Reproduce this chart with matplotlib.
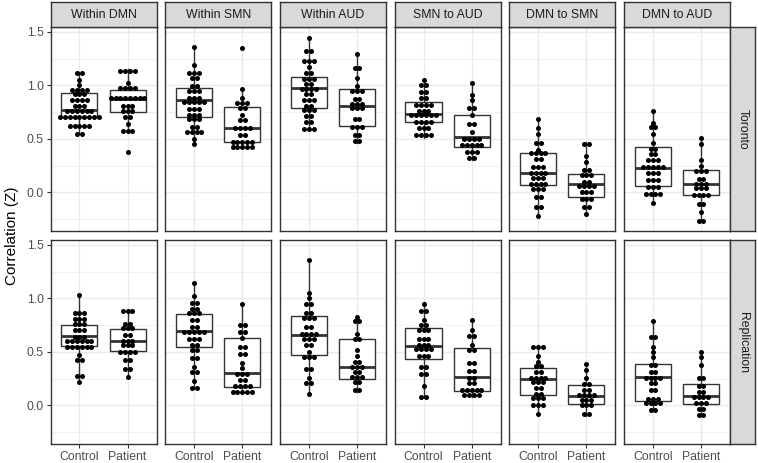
import numpy as np
import matplotlib.pyplot as plt
from matplotlib.ticker import FixedLocator

plt.rcParams["font.family"] = ["Liberation Sans", "DejaVu Sans"]

facets = ["Within DMN", "Within SMN", "Within AUD", "SMN to AUD", "DMN to SMN", "DMN to AUD"]
cohorts = ["Toronto", "Replication"]
groups = ["Control", "Patient"]

# ---- Toronto: individual correlations (dots)
tor_dmn_c = [1.12, 1.12, 1.05, 1.00, 0.97, 0.96, 0.96, 0.95, 0.94, 0.93, 0.90, 0.88, 0.87, 0.86,
             0.84, 0.82, 0.80, 0.79, 0.78, 0.77, 0.77, 0.76, 0.75, 0.74, 0.72, 0.71, 0.71, 0.71,
             0.70, 0.70, 0.70, 0.70, 0.69, 0.65, 0.62, 0.62, 0.62, 0.61, 0.55, 0.55]
tor_dmn_p = [1.15, 1.15, 1.13, 1.12, 1.02, 1.00, 0.97, 0.96, 0.96, 0.91, 0.88, 0.88, 0.88, 0.88,
             0.88, 0.88, 0.87, 0.82, 0.80, 0.80, 0.78, 0.76, 0.75, 0.72, 0.69, 0.64, 0.60, 0.56,
             0.56, 0.38]
tor_smn_c = [1.36, 1.19, 1.13, 1.12, 1.10, 1.08, 1.05, 1.00, 0.98, 0.96, 0.96, 0.93, 0.90, 0.88,
             0.87, 0.86, 0.86, 0.85, 0.85, 0.82, 0.80, 0.78, 0.76, 0.73, 0.72, 0.71, 0.70, 0.70,
             0.66, 0.62, 0.60, 0.58, 0.56, 0.55, 0.55, 0.50, 0.45]
tor_smn_p = [1.35, 0.97, 0.88, 0.84, 0.84, 0.83, 0.80, 0.78, 0.72, 0.69, 0.66, 0.62, 0.60, 0.60,
             0.58, 0.55, 0.52, 0.48, 0.47, 0.47, 0.47, 0.46, 0.45, 0.43, 0.41, 0.41, 0.41]
tor_aud_c = [1.44, 1.33, 1.32, 1.24, 1.23, 1.22, 1.17, 1.14, 1.10, 1.08, 1.06, 1.05, 1.02, 1.00,
             0.98, 0.97, 0.96, 0.95, 0.94, 0.90, 0.88, 0.87, 0.85, 0.82, 0.80, 0.79, 0.78, 0.75,
             0.72, 0.70, 0.67, 0.64, 0.62, 0.59, 0.58]
tor_aud_p = [1.29, 1.17, 1.16, 1.07, 0.99, 0.96, 0.95, 0.94, 0.88, 0.86, 0.84, 0.82, 0.81, 0.80,
             0.80, 0.76, 0.70, 0.67, 0.63, 0.62, 0.59, 0.56, 0.52, 0.50, 0.47]
tor_sa_c = [1.05, 1.02, 0.98, 0.96, 0.92, 0.90, 0.86, 0.84, 0.82, 0.82, 0.80, 0.78, 0.76, 0.75,
            0.74, 0.73, 0.73, 0.72, 0.70, 0.70, 0.68, 0.66, 0.65, 0.64, 0.62, 0.60, 0.58, 0.56,
            0.54, 0.52, 0.52]
tor_sa_p = [1.02, 0.91, 0.86, 0.80, 0.78, 0.72, 0.66, 0.62, 0.56, 0.52, 0.51, 0.50, 0.48, 0.46,
            0.45, 0.44, 0.43, 0.42, 0.40, 0.38, 0.36, 0.34, 0.31]
tor_ds_c = [0.69, 0.60, 0.55, 0.47, 0.45, 0.40, 0.38, 0.37, 0.36, 0.35, 0.32, 0.30, 0.26, 0.24,
            0.22, 0.20, 0.19, 0.18, 0.17, 0.15, 0.14, 0.12, 0.10, 0.09, 0.07, 0.06, 0.05, 0.03,
            0.01, -0.03, -0.06, -0.12, -0.15, -0.22]
tor_ds_p = [0.47, 0.44, 0.34, 0.28, 0.22, 0.20, 0.18, 0.16, 0.14, 0.10, 0.09, 0.08, 0.07, 0.06,
            0.04, 0.02, 0.00, -0.02, -0.04, -0.06, -0.08, -0.12, -0.15, -0.20]
tor_da_c = [0.76, 0.65, 0.63, 0.60, 0.55, 0.46, 0.42, 0.40, 0.37, 0.34, 0.32, 0.30, 0.28, 0.26,
            0.25, 0.24, 0.23, 0.22, 0.20, 0.18, 0.16, 0.14, 0.12, 0.10, 0.07, 0.06, 0.03, 0.00,
            -0.01, -0.03, -0.03, -0.10]
tor_da_p = [0.51, 0.45, 0.30, 0.25, 0.22, 0.20, 0.18, 0.14, 0.12, 0.10, 0.08, 0.07, 0.06, 0.04,
            0.02, 0.00, -0.03, -0.03, -0.04, -0.10, -0.12, -0.18, -0.27, -0.27]

# ---- Replication
rep_dmn_c = [1.03, 0.87, 0.86, 0.86, 0.82, 0.80, 0.79, 0.78, 0.76, 0.74, 0.72, 0.70, 0.68, 0.66,
             0.64, 0.63, 0.62, 0.62, 0.61, 0.60, 0.59, 0.58, 0.56, 0.55, 0.54, 0.54, 0.53, 0.53,
             0.47, 0.44, 0.40, 0.28, 0.27, 0.22]
rep_dmn_p = [0.89, 0.88, 0.88, 0.77, 0.76, 0.74, 0.72, 0.70, 0.68, 0.64, 0.62, 0.60, 0.59, 0.58,
             0.57, 0.54, 0.52, 0.50, 0.50, 0.48, 0.44, 0.41, 0.36, 0.32, 0.27]
rep_smn_c = [1.14, 1.02, 0.97, 0.95, 0.92, 0.89, 0.88, 0.86, 0.84, 0.81, 0.78, 0.75, 0.72, 0.70,
             0.70, 0.69, 0.68, 0.66, 0.64, 0.62, 0.60, 0.58, 0.55, 0.54, 0.50, 0.46, 0.43, 0.36,
             0.33, 0.29, 0.23, 0.16, 0.16]
rep_smn_p = [0.95, 0.76, 0.74, 0.70, 0.68, 0.63, 0.56, 0.53, 0.50, 0.46, 0.40, 0.35, 0.30, 0.30,
             0.28, 0.26, 0.22, 0.20, 0.18, 0.17, 0.16, 0.15, 0.13, 0.12, 0.11, 0.11]
rep_aud_c = [1.36, 1.05, 1.00, 0.96, 0.93, 0.88, 0.85, 0.84, 0.82, 0.80, 0.74, 0.72, 0.69, 0.68,
             0.66, 0.65, 0.63, 0.62, 0.60, 0.58, 0.55, 0.50, 0.47, 0.46, 0.43, 0.36, 0.33, 0.26,
             0.22, 0.20, 0.11]
rep_aud_p = [0.83, 0.80, 0.77, 0.67, 0.64, 0.60, 0.52, 0.46, 0.42, 0.40, 0.38, 0.36, 0.35, 0.33,
             0.30, 0.28, 0.26, 0.25, 0.23, 0.20, 0.16, 0.13]
rep_sa_c = [0.95, 0.90, 0.87, 0.80, 0.77, 0.74, 0.72, 0.70, 0.68, 0.64, 0.62, 0.60, 0.58, 0.56,
            0.55, 0.54, 0.53, 0.52, 0.50, 0.48, 0.46, 0.44, 0.38, 0.34, 0.30, 0.28, 0.18, 0.08,
            0.07]
rep_sa_p = [0.80, 0.70, 0.66, 0.63, 0.56, 0.53, 0.50, 0.42, 0.38, 0.34, 0.30, 0.27, 0.25, 0.22,
            0.20, 0.17, 0.15, 0.14, 0.14, 0.13, 0.12, 0.10, 0.08, 0.08]
rep_ds_c = [0.56, 0.55, 0.53, 0.46, 0.41, 0.38, 0.35, 0.33, 0.30, 0.28, 0.26, 0.25, 0.25, 0.24,
            0.22, 0.20, 0.18, 0.15, 0.12, 0.10, 0.09, 0.07, 0.05, 0.02, 0.00, -0.02, -0.08]
rep_ds_p = [0.39, 0.33, 0.26, 0.22, 0.18, 0.16, 0.13, 0.11, 0.10, 0.09, 0.08, 0.06, 0.05, 0.03,
            0.02, 0.00, -0.02, -0.06, -0.10]
rep_da_c = [0.79, 0.65, 0.62, 0.55, 0.50, 0.45, 0.40, 0.36, 0.32, 0.30, 0.28, 0.26, 0.25, 0.24,
            0.22, 0.19, 0.16, 0.13, 0.08, 0.06, 0.05, 0.04, 0.03, 0.02, 0.00, -0.04, -0.05]
rep_da_p = [0.50, 0.45, 0.38, 0.28, 0.24, 0.20, 0.17, 0.14, 0.12, 0.10, 0.09, 0.07, 0.06, 0.04,
            0.02, 0.01, -0.02, -0.05, -0.08, -0.10]

dots = {
    "Toronto": [(tor_dmn_c, tor_dmn_p), (tor_smn_c, tor_smn_p), (tor_aud_c, tor_aud_p),
                (tor_sa_c, tor_sa_p), (tor_ds_c, tor_ds_p), (tor_da_c, tor_da_p)],
    "Replication": [(rep_dmn_c, rep_dmn_p), (rep_smn_c, rep_smn_p), (rep_aud_c, rep_aud_p),
                    (rep_sa_c, rep_sa_p), (rep_ds_c, rep_ds_p), (rep_da_c, rep_da_p)],
}

# ---- box statistics: (control, patient) per facet
tor_q1 = [(0.709, 0.752), (0.706, 0.469), (0.793, 0.618), (0.662, 0.425), (0.067, -0.042), (0.061, -0.026)]
tor_med = [(0.774, 0.877), (0.861, 0.603), (0.977, 0.805), (0.737, 0.519), (0.182, 0.076), (0.232, 0.076)]
tor_q3 = [(0.930, 0.961), (0.980, 0.799), (1.079, 0.964), (0.843, 0.727), (0.369, 0.176), (0.425, 0.207)]
tor_lo = [(0.550, 0.560), (0.450, 0.410), (0.581, 0.466), (0.512, 0.307), (-0.223, -0.198), (-0.098, -0.260)]
tor_hi = [(1.126, 1.157), (1.366, 0.975), (1.438, 1.288), (1.048, 1.017), (0.696, 0.472), (0.759, 0.519)]

rep_q1 = [(0.551, 0.504), (0.545, 0.175), (0.473, 0.247), (0.435, 0.138), (0.100, 0.012), (0.041, 0.012)]
rep_med = [(0.645, 0.598), (0.692, 0.304), (0.654, 0.357), (0.551, 0.263), (0.247, 0.091), (0.263, 0.091)]
rep_q3 = [(0.755, 0.711), (0.858, 0.629), (0.839, 0.617), (0.723, 0.539), (0.347, 0.194), (0.388, 0.200)]
rep_lo = [(0.216, 0.269), (0.160, 0.106), (0.106, 0.128), (0.075, 0.075), (-0.082, -0.097), (-0.050, -0.097)]
rep_hi = [(1.036, 0.889), (1.149, 0.952), (1.365, 0.827), (0.968, 0.802), (0.560, 0.394), (0.789, 0.504)]

boxes = {
    "Toronto": (tor_q1, tor_med, tor_q3, tor_lo, tor_hi),
    "Replication": (rep_q1, rep_med, rep_q3, rep_lo, rep_hi),
}


def dot_stack(vals, center, binw=0.045, dw=0.1):
    # centred dot stacking like geom_dotplot(binaxis="y", stackdir="center")
    v = np.sort(np.asarray(vals, dtype=float))
    xs, ys = [], []
    i = 0
    while i < len(v):
        j = i
        while j < len(v) and v[j] < v[i] + binw:
            j += 1
        k = j - i
        yc = v[i:j].mean()
        for m in range(k):
            xs.append(center + (m - (k - 1) / 2) * dw)
            ys.append(yc)
        i = j
    return xs, ys


W, H = 758, 463
fig = plt.figure(figsize=(W / 100, H / 100), dpi=100)


def rect(x0, y0, x1, y1):
    return [x0 / W, 1 - y1 / H, (x1 - x0) / W, (y1 - y0) / H]


dark = "#333333"
lefts = [50.5 + i * 114.7 for i in range(6)]
pw = 106
row_y = [(27, 231), (240, 444)]

for r, cohort in enumerate(cohorts):
    q1s, meds, q3s, los, his = boxes[cohort]
    for c, facet in enumerate(facets):
        x0 = lefts[c]
        y0, y1 = row_y[r]
        ax = fig.add_axes(rect(x0, y0, x0 + pw, y1))
        ax.set_xlim(0.4, 2.6)
        ax.set_ylim(-0.36, 1.545)
        ax.yaxis.set_major_locator(FixedLocator([0.0, 0.5, 1.0, 1.5]))
        ax.yaxis.set_minor_locator(FixedLocator([-0.25, 0.25, 0.75, 1.25]))
        ax.set_xticks([1, 2])
        ax.grid(True, which="major", color="#EBEBEB", linewidth=1.0, zorder=0)
        ax.grid(True, which="minor", axis="y", color="#EBEBEB", linewidth=0.5, zorder=0)
        ax.set_axisbelow(True)
        for s in ax.spines.values():
            s.set_color(dark)
            s.set_linewidth(1.0)

        stats = []
        for g in range(2):
            stats.append({"med": meds[c][g], "q1": q1s[c][g], "q3": q3s[c][g],
                          "whislo": los[c][g], "whishi": his[c][g], "fliers": []})
        ax.bxp(stats, positions=[1, 2], widths=0.75, showcaps=False, showfliers=False,
               patch_artist=True,
               boxprops=dict(facecolor="white", edgecolor=dark, linewidth=1.0),
               medianprops=dict(color=dark, linewidth=2.0),
               whiskerprops=dict(color=dark, linewidth=1.0),
               manage_ticks=False)
        for g in range(2):
            xs, ys = dot_stack(dots[cohort][c][g], g + 1)
            ax.scatter(xs, ys, s=13, color="black", linewidths=0, zorder=5)

        ax.tick_params(axis="both", which="major", length=2.75, width=0.8, color=dark,
                       labelsize=8.8, labelcolor="#4D4D4D", pad=2)
        ax.tick_params(axis="y", which="minor", length=0)
        if c == 0:
            ax.set_yticklabels(["0.0", "0.5", "1.0", "1.5"])
        else:
            ax.tick_params(axis="y", which="major", length=0, labelleft=False)
        if r == 1:
            ax.set_xticklabels(groups)
        else:
            ax.tick_params(axis="x", length=0, labelbottom=False)

        if r == 0:
            sax = fig.add_axes(rect(x0, 2, x0 + pw, 27))
            sax.set_facecolor("#D9D9D9")
            sax.set_xticks([])
            sax.set_yticks([])
            for s in sax.spines.values():
                s.set_color(dark)
                s.set_linewidth(1.0)
            sax.text(0.5, 0.48, facet, ha="center", va="center", fontsize=8.8,
                     color="#1A1A1A", transform=sax.transAxes)

    y0, y1 = row_y[r]
    sax = fig.add_axes(rect(lefts[5] + pw, y0, lefts[5] + pw + 25, y1))
    sax.set_facecolor("#D9D9D9")
    sax.set_xticks([])
    sax.set_yticks([])
    for s in sax.spines.values():
        s.set_color(dark)
        s.set_linewidth(1.0)
    sax.text(0.5, 0.5, cohort, ha="center", va="center", fontsize=8.8, color="#1A1A1A",
             rotation=-90, transform=sax.transAxes)

fig.text(12 / W, 1 - 236 / H, "Correlation (Z)", rotation=90, ha="center", va="center",
         fontsize=11, color="black")

fig.savefig("out.png", dpi=100)
